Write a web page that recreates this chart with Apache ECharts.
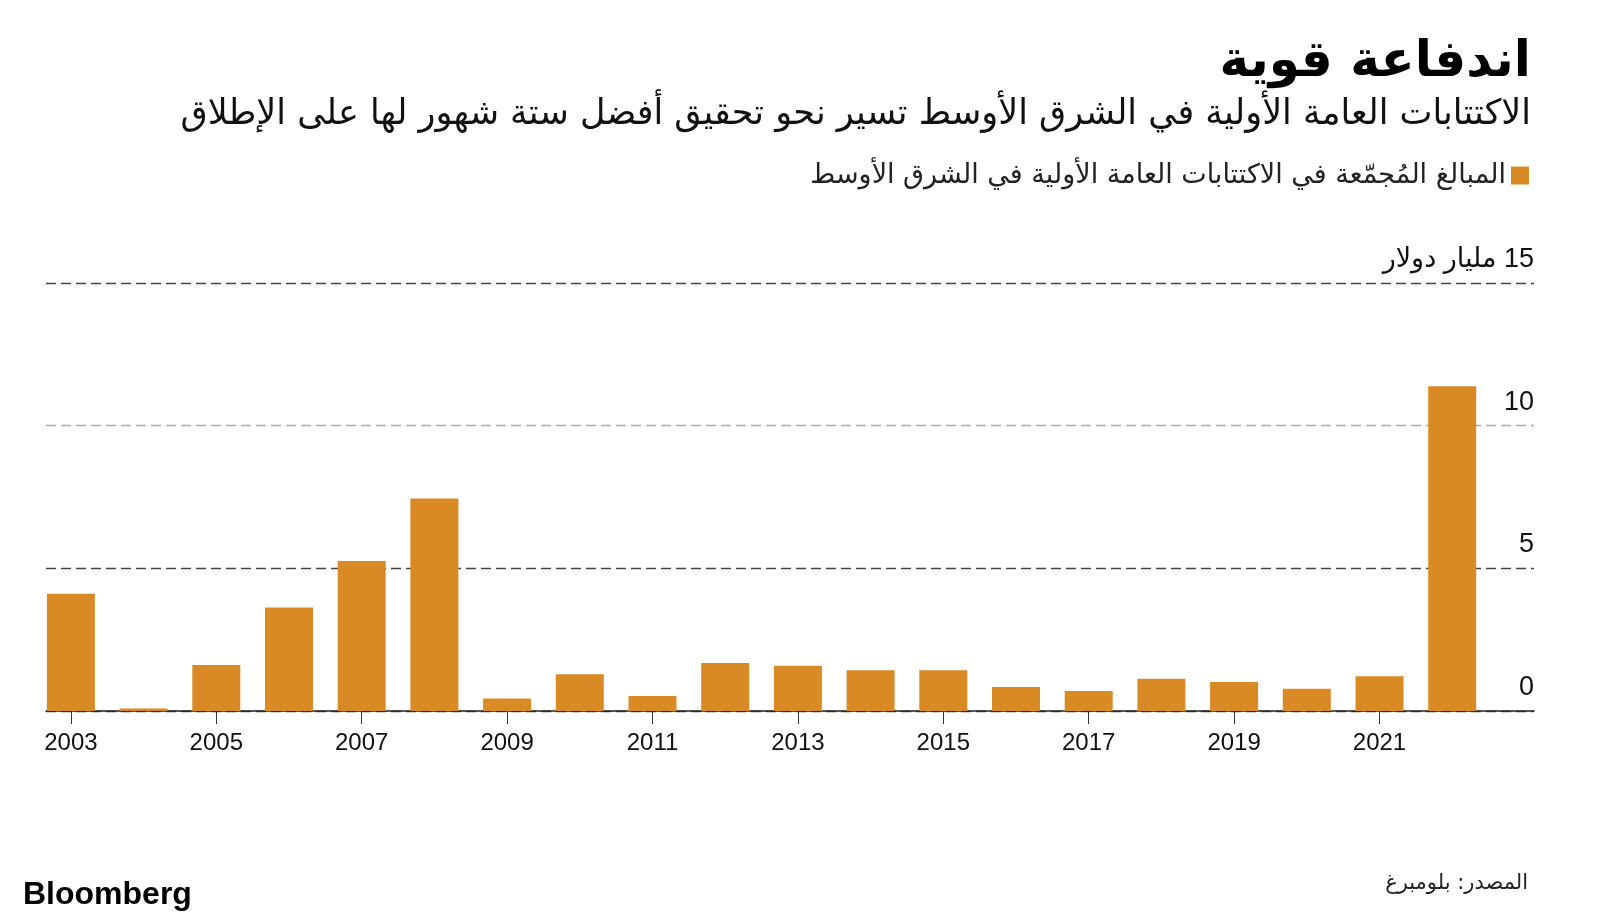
<!DOCTYPE html>
<html>
<head>
<meta charset="utf-8">
<script src="https://cdn.jsdelivr.net/npm/echarts@6/dist/echarts.min.js"></script>
<style>
html,body{margin:0;padding:0;background:#fff;}
#c{width:1600px;height:922px;}
</style>
</head>
<body>
<div id="c" dir="rtl"></div>
<script>
const years = [2003,2004,2005,2006,2007,2008,2009,2010,2011,2012,2013,2014,2015,2016,2017,2018,2019,2020,2021,2022];
const values = [4.11,0.09,1.61,3.63,5.26,7.45,0.44,1.29,0.53,1.68,1.59,1.43,1.43,0.84,0.70,1.13,1.02,0.78,1.22,11.38];
const tickYears = [2003,2005,2007,2009,2011,2013,2015,2017,2019,2021];
const yTicks = [0,5,10,15];
const titleText = 'اندفاعة قوية';
const subtitleText = 'الاكتتابات العامة الأولية في الشرق الأوسط تسير نحو تحقيق أفضل ستة شهور لها على الإطلاق';
const seriesName = 'المبالغ المُجمّعة في الاكتتابات العامة الأولية في الشرق الأوسط';
const unitLabel = '15 مليار دولار';
const sourceText = 'المصدر: بلومبرغ';

const BAR = '#D98A24';
const numFont = '"Liberation Sans", "DejaVu Sans", sans-serif';
const arFont = '"DejaVu Sans", "Liberation Sans", sans-serif';

const chart = echarts.init(document.getElementById('c'), null, {renderer:'canvas'});
chart.setOption({
  animation:false,
  backgroundColor:'#fff',
  grid:{left:46, right:66, top:283, bottom:211, containLabel:false},
  legend:{
    show:true, right:66, top:157, align:'right', icon:'rect',
    itemWidth:18, itemHeight:18, itemGap:10,
    textStyle:{fontFamily:arFont, fontSize:27, color:'#222', padding:[0,0,0,4]},
    data:[seriesName]
  },
  xAxis:{
    type:'value', min:2002.6575, max:2023.125,
    axisLine:{show:true, lineStyle:{color:'#222', width:1.5}},
    axisTick:{show:true, length:13, lineStyle:{color:'#333', width:1}, customValues:tickYears},
    axisLabel:{show:true, customValues:tickYears, formatter:v=>String(v), margin:20,
      fontFamily:numFont, fontSize:24, color:'#111'},
    splitLine:{show:false}
  },
  yAxis:{
    type:'value', min:0, max:15, interval:5, position:'right',
    axisLine:{show:false}, axisTick:{show:false},
    axisLabel:{show:true, inside:true, margin:0, align:'right', verticalAlign:'bottom',
      padding:[0,0,10,0], fontFamily:numFont, fontSize:27, color:'#111',
      formatter:v => v===15 ? unitLabel : String(v)},
    splitLine:{show:true, lineStyle:{type:[10,5], width:1.3, color:['#444','#444','#aaa','#444']}}
  },
  series:[{
    name:seriesName, type:'bar', barWidth:48,
    itemStyle:{color:BAR},
    data: years.map((y,i)=>[y, values[i]])
  }],
  graphic:[
    {type:'text', right:69, top:38, style:{text:titleText, font:'bold 50px '+arFont, fill:'#000', textAlign:'right'}},
    {type:'text', right:69, top:97, style:{text:subtitleText, font:'35px '+arFont, fill:'#111', textAlign:'right'}},
    {type:'text', left:23, top:879, style:{text:'Bloomberg', font:'bold 32px "Liberation Sans", sans-serif', fill:'#000'}},
    {type:'text', right:72, top:873, style:{text:sourceText, font:'21px '+arFont, fill:'#222', textAlign:'right'}}
  ]
});
</script>
</body>
</html>
